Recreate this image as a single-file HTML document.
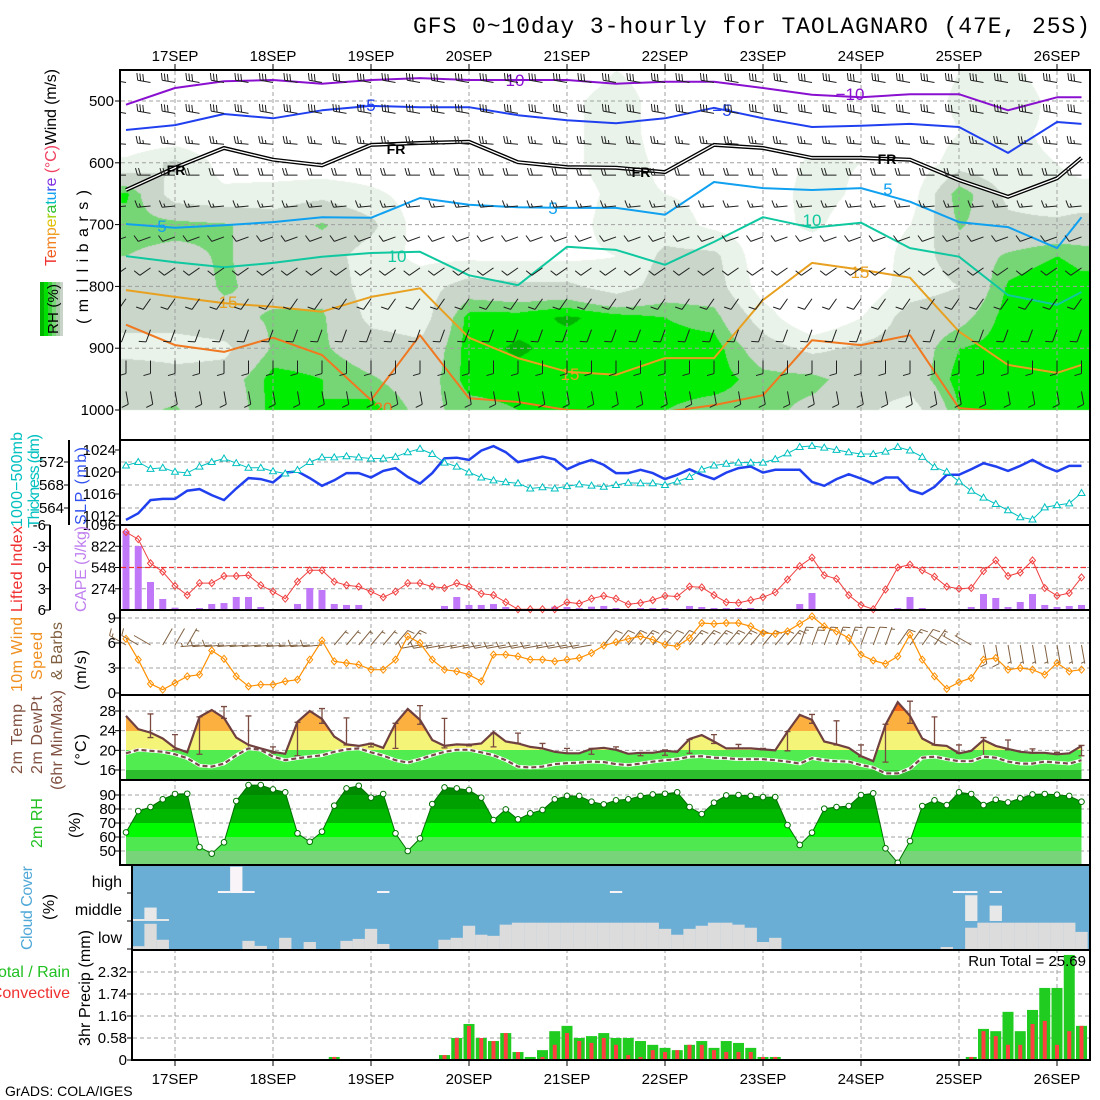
<!DOCTYPE html>
<html><head><meta charset="utf-8">
<style>
body{margin:0;background:#fff;width:1100px;height:1100px;overflow:hidden;position:relative;font-family:"Liberation Sans",sans-serif}
#rhcanvas{position:absolute;left:0;top:0}
#chart{position:absolute;left:0;top:0}
text{font-family:"Liberation Sans",sans-serif}
</style></head>
<body>
<canvas id="rhcanvas" width="1100" height="1100"></canvas>
<svg id="chart" xmlns="http://www.w3.org/2000/svg" width="1100" height="1100">
<defs>
<clipPath id="p1clip"><rect x="121" y="71" width="968" height="339"/></clipPath>
<clipPath id="tclip"><polygon id="tpoly" points=""/></clipPath>
<clipPath id="rclip"><polygon id="rpoly" points=""/></clipPath>
<clipPath id="cclip"><rect x="133" y="866" width="956" height="83"/></clipPath>
</defs>
<g id="dyn"></g>
<g fill="none" stroke="#000" stroke-width="2">
<rect x="120" y="70" width="970" height="370"/>
<rect x="120" y="440" width="970" height="85"/>
<rect x="120" y="525" width="970" height="85"/>
<rect x="120" y="610" width="970" height="85"/>
<rect x="120" y="695" width="970" height="85"/>
<rect x="120" y="780" width="970" height="85"/>
<rect x="132" y="865" width="958" height="85"/>
<rect x="132" y="950" width="958" height="110"/>
<line x1="69" y1="440" x2="69" y2="525"/>
<line x1="50" y1="525" x2="50" y2="610"/>
</g>
<text x="1090" y="33" text-anchor="end" font-family="Liberation Mono" font-size="23" textLength="677" style="font-family:'Liberation Mono',monospace">GFS 0~10day 3-hourly for TAOLAGNARO (47E, 25S)</text>
<text x="5" y="1096" font-size="14">GrADS: COLA/IGES</text>
<text x="1086" y="966" text-anchor="end" font-size="15">Run Total = 25.69</text>

<g font-size="16">
<text transform="translate(56,266) rotate(-90)" textLength="197"><tspan fill="#f03030">T</tspan><tspan fill="#f05a20">e</tspan><tspan fill="#f08020">m</tspan><tspan fill="#f0a020">p</tspan><tspan fill="#e0c000">e</tspan><tspan fill="#a0d000">r</tspan><tspan fill="#30c030">a</tspan><tspan fill="#00c0c0">t</tspan><tspan fill="#10a0f0">u</tspan><tspan fill="#3050f0">r</tspan><tspan fill="#8030e0">e</tspan><tspan fill="#f04060"> (°C)</tspan><tspan fill="#000">Wind (m/s)</tspan></text>
<text transform="translate(88,324) rotate(-90)" textLength="134">(millibars)</text>
<g>
<rect x="40" y="282" width="4" height="54" fill="#00b400"/><rect x="44" y="282" width="4" height="54" fill="#00e000"/><rect x="48" y="282" width="4" height="54" fill="#3cd03c"/><rect x="52" y="282" width="4" height="54" fill="#78d878"/><rect x="56" y="282" width="4" height="54" fill="#a8c8a8"/><rect x="60" y="282" width="3" height="54" fill="#c8d4c8"/>
<text transform="translate(58,334) rotate(-90)" font-size="15" textLength="50">RH (%)</text>
</g>
<text transform="translate(22,527) rotate(-90)" fill="#00c0c0" textLength="95">1000−500mb</text>
<text transform="translate(39,528) rotate(-90)" fill="#00c0c0" textLength="94">Thickness (dm)</text>
<text transform="translate(86,525) rotate(-90)" fill="#3050f0" textLength="78">SLP (mb)</text>
<text transform="translate(22,612) rotate(-90)" fill="#f03030" textLength="86">Lifted Index</text>
<text transform="translate(86,612) rotate(-90)" fill="#c080f0" textLength="86">CAPE (J/kg)</text>
<text transform="translate(22,692) rotate(-90)" fill="#f09020" textLength="75">10m Wind</text>
<text transform="translate(42,680) rotate(-90)" fill="#f09020" textLength="48">Speed</text>
<text transform="translate(62,680) rotate(-90)" fill="#806040" textLength="58">&amp; Barbs</text>
<text transform="translate(86,690) rotate(-90)" textLength="40">(m/s)</text>
<text transform="translate(22,774) rotate(-90)" fill="#805040" textLength="70">2m Temp</text>
<text transform="translate(42,774) rotate(-90)" fill="#805040" textLength="78">2m DewPt</text>
<text transform="translate(62,790) rotate(-90)" fill="#805040" textLength="100">(6hr Min/Max)</text>
<text transform="translate(86,766) rotate(-90)" textLength="32">(°C)</text>
<text transform="translate(42,848) rotate(-90)" fill="#20c020" textLength="50">2m RH</text>
<text transform="translate(80,838) rotate(-90)" textLength="26">(%)</text>
<text transform="translate(32,950) rotate(-90)" fill="#50a8d8" textLength="84">Cloud Cover</text>
<text transform="translate(54,920) rotate(-90)" textLength="26">(%)</text>
<text transform="translate(90,1046) rotate(-90)" textLength="116">3hr Precip (mm)</text>
<text x="70" y="977" text-anchor="end" fill="#20c020">Total / Rain</text>
<text x="70" y="998" text-anchor="end" fill="#f03030">Convective</text>
<text x="122" y="887" text-anchor="end">high</text>
<text x="122" y="915" text-anchor="end">middle</text>
<text x="122" y="943" text-anchor="end">low</text>
</g>
</svg>
<script>
const N = 79;
const slp = [1011.3,1012.5,1014.9,1015.1,1015.1,1016.6,1016.9,1015.8,1014.9,1017.0,1018.9,1018.7,1018.1,1019.9,1020.1,1018.9,1017.5,1018.5,1019.8,1019.8,1019.0,1020.2,1020.7,1019.1,1017.9,1019.8,1022.5,1022.6,1022.2,1023.9,1024.7,1023.6,1021.8,1022.3,1022.8,1022.3,1020.5,1021.5,1022.2,
1021.3,1019.8,1019.8,1020.4,1019.8,1018.7,1019.5,1020.5,1019.5,1018.7,1019.9,1020.7,1021.0,1019.9,1020.4,1020.4,1020.4,1018.2,1017.5,1018.7,1019.6,1018.8,1017.9,1019.0,1019.0,1016.7,1016.0,1017.3,1019.5,1019.5,1020.5,1021.6,1021.0,1020.2,1021.1,1022.2,1021.0,1020.1,1021.1,1021.1];
const thickness = [571.4,572.0,570.8,571.0,570.3,570.1,571.2,572.0,572.6,571.8,571.0,571.0,570.4,570.0,570.6,572.0,572.8,572.8,573.0,572.8,572.6,572.6,572.9,573.7,574.3,573.4,571.9,571.2,570.2,569.3,568.8,568.5,568.3,567.4,567.6,567.4,567.8,568.1,567.9,
567.7,568.0,568.4,568.3,568.3,568.0,568.6,569.4,570.7,571.4,571.7,571.9,571.9,571.9,572.5,573.5,574.6,574.8,574.5,574.1,573.7,573.4,573.4,573.8,574.6,574.0,572.9,571.1,570.3,568.6,567.0,565.8,564.7,563.6,562.4,562.0,564.1,564.5,564.8,566.6];
const cape = [1023,825,361,142,30,13,26,77,90,168,168,39,13,13,77,284,258,77,65,65,13,0,0,13,13,13,52,168,65,65,77,39,13,13,13,43,39,26,43,
52,26,13,26,26,26,13,52,39,26,26,26,26,13,13,13,77,219,0,0,0,0,0,0,26,168,26,0,13,13,39,206,155,39,103,206,65,39,52,65];
const liftedIndex = [-5.0,-4.0,-0.6,0.6,2.6,3.9,2.2,2.2,1.2,1.2,1.1,2.5,3.4,4.4,2.0,0.4,0.4,2.0,2.5,2.7,3.4,4.2,3.4,2.2,2.2,2.7,2.9,2.2,2.7,3.7,3.9,4.9,5.9,5.9,5.9,5.9,4.9,5.1,4.4,
4.0,4.4,5.2,5.0,4.6,4.0,4.1,2.7,2.8,3.9,4.9,5.0,4.6,4.2,3.5,1.7,-0.2,-1.4,1.1,1.6,3.9,5.3,5.9,3.1,0.0,-0.4,0.4,1.3,2.7,3.0,2.9,0.5,-1.0,1.2,0.7,-1.0,2.9,4.0,3.6,1.4];
const windSpeed = [6.5,4.0,1.1,0.4,1.2,2.0,2.2,5.1,4.1,2.0,0.8,1.0,1.0,1.4,1.6,4.0,6.3,3.8,3.6,3.4,2.8,2.8,4.0,6.8,6.0,4.0,2.8,2.6,2.2,1.4,4.6,4.6,4.4,4.0,4.0,3.8,4.0,4.2,4.8,5.7,
6.1,6.5,6.8,6.4,5.8,5.6,6.6,8.4,8.3,8.4,8.4,8.0,7.2,7.1,7.4,8.3,9.2,8.0,7.4,6.6,4.6,3.9,3.5,4.4,7.0,4.0,2.0,0.5,1.3,1.8,4.0,4.2,2.8,3.0,2.8,2.2,3.6,2.6,2.8];
const windDir = [300,300,300,30,30,30,265,265,265,265,
265,265,265,265,265,265,265,40,40,40,
40,40,40,40,260,260,260,260,260,260,
260,260,260,260,260,260,260,260,260,40,
40,40,40,40,40,40,40,40,40,40,
40,40,40,40,40,20,20,20,20,20,
20,20,20,35,35,35,35,300,300,300,
170,170,170,170,170,170,170,170,170];
const temp2m = [27.0,24.3,23.6,22.4,20.5,19.6,26.8,28.2,26.6,22.6,21.1,20.4,19.7,19.3,25.8,28.0,26.4,22.8,21.2,20.9,21.4,20.5,25.5,28.4,26.2,22.1,20.9,21.2,21.1,21.4,23.7,21.8,21.4,20.7,20.4,19.7,19.4,19.4,20.3,20.5,
20.1,19.3,19.5,19.5,19.9,19.7,22.3,23.1,21.8,20.4,20.4,20.4,20.2,20.0,23.8,27.2,26.2,21.8,21.2,20.5,18.8,17.8,25.2,29.8,27.0,22.4,21.1,20.9,19.4,19.9,22.1,20.9,20.3,19.7,19.5,19.5,19.2,19.4,20.9];
const dew2m = [19.4,20.1,19.9,19.7,19.2,18.4,16.9,16.7,17.3,19.0,20.4,20.1,18.7,18.0,18.4,18.7,19.0,19.7,20.2,20.4,19.6,18.9,18.0,17.5,18.2,19.0,19.7,20.1,20.1,19.6,19.0,18.0,16.7,16.5,16.7,17.2,17.4,17.5,17.7,17.6,
17.2,17.0,17.3,17.7,18.0,18.2,18.7,18.8,18.5,18.4,18.2,18.2,18.2,18.0,17.7,17.3,18.4,18.0,17.8,17.7,17.0,16.5,15.3,15.3,16.3,18.5,18.7,18.2,17.8,17.8,18.7,18.5,17.7,17.3,17.3,17.7,17.5,17.3,18.0];
const tMax6h = [27.4,23.2,26.8,28.9,27.0,20.7,25.7,28.5,26.6,21.4,25.5,29.1,26.5,21.2,23.5,23.5,21.4,20.4,20.4,20.7,19.4,20.1,22.2,23.2,21.2,20.4,23.8,27.3,26.0,21.1,25.3,30.0,26.8,21.1,22.6,22.1,20.3,19.6,21.0];
const tMin6h = [22.6,20.1,19.2,26.5,20.4,19.4,18.9,25.5,21.1,20.7,20.4,25.3,20.5,20.9,20.7,21.4,20.3,19.4,19.2,20.1,18.9,19.0,19.4,21.4,20.3,20.1,19.9,25.5,21.1,18.7,17.6,25.5,21.1,19.4,18.9,20.1,19.4,19.2,18.9];
const rh2m = [63.3,78.5,81.4,86.9,90.7,90.9,52.8,48.1,56.2,85.7,97.1,97.1,94.0,91.9,62.6,56.6,63.8,82.4,94.7,96.6,88.1,90.7,62.6,50.0,59.0,83.5,95.4,94.7,93.5,88.1,72.1,79.7,72.6,76.9,79.3,86.9,89.3,89.3,85.2,83.3,
86.2,86.9,89.3,90.4,90.9,91.9,81.4,76.4,84.5,89.7,90.0,89.3,88.5,88.5,68.5,54.3,63.1,80.2,81.4,82.1,90.0,91.2,51.9,41.6,57.1,82.1,86.2,82.8,91.9,90.7,82.8,86.6,84.7,87.6,90.4,90.7,90.2,89.3,85.2];
const cloudLow = [10,10,90,33,0,0,0,0,0,0,29,11,0,40,0,25,0,0,29,36,72,18,0,0,0,0,33,40,83,51,47,87,94,94,94,94,94,94,94,94,
94,94,94,94,72,51,72,83,94,94,87,76,25,40,0,0,0,0,0,0,0,0,0,0,0,0,0,7,0,76,94,94,94,94,94,94,94,94,61];
const cloudMid = [0,7,48,7,0,0,0,0,0,0,0,0,0,0,0,0,0,0,0,0,0,0,0,0,0,0,0,0,0,0,0,0,0,0,0,0,0,0,0,0,
0,0,0,0,0,0,0,0,0,0,0,0,0,0,0,0,0,0,0,0,0,0,0,0,0,0,0,0,0,92,0,55,0,0,0,0,0,0,0];
const cloudHigh = [0,0,0,0,0,0,0,0,5,94,5,0,0,0,0,0,0,0,0,0,0,5,0,0,0,0,0,0,0,0,0,0,0,0,0,0,0,0,0,0,
5,0,0,0,0,0,0,0,0,0,0,0,0,0,0,0,0,0,0,0,0,0,0,0,0,0,0,0,5,5,0,7,0,0,0,0,0,0,0];
const precipTotal = [0,0,0,0,0,0,0,0,0,0,0,0,0,0,0,0,0,0.08,0,0,0,0,0,0,0,0,0.13,0.58,0.95,0.58,0.50,0.71,0.21,0.08,0.26,0.76,0.90,0.58,0.63,0.71,
0.58,0.58,0.50,0.40,0.32,0.26,0.40,0.50,0.32,0.50,0.45,0.32,0.08,0.08,0,0,0,0,0,0,0,0,0,0,0,0,0,0,0,0.08,0.82,0.76,1.27,0.76,1.32,1.90,1.90,2.77,0.90];
const precipConv = [0,0,0,0,0,0,0,0,0,0,0,0,0,0,0,0,0,0.08,0,0,0,0,0,0,0,0,0.13,0.58,0.90,0.58,0.50,0.71,0.21,0,0.08,0.40,0.71,0.50,0.45,0.58,
0.40,0.13,0.08,0.26,0.21,0.26,0.40,0.40,0.26,0.21,0.21,0.21,0.08,0.08,0,0,0,0,0,0,0,0,0,0,0,0,0,0,0,0.08,0.76,0.63,0.40,0.40,0.95,1.03,0.40,0.76,0.90];
const dayLabels = ['17SEP','18SEP','19SEP','20SEP','21SEP','22SEP','23SEP','24SEP','25SEP','26SEP'];
const dayIndex = [4,12,20,28,36,44,52,60,68,76];
const rhCols = [0,4,8,12,16,20,24,28,32,36,40,44,48,52,56,60,64,68,72,76,78];
const rhLevels = [450,500,550,600,650,700,750,800,850,900,950,1000];
const rhGrid = [
[10,10,10,35,82,75,70,60,60,40,70,65],
[10,10,10,55,40,75,65,60,60,40,60,72],
[10,10,10,20,35,72,72,72,65,45,60,55],
[10,10,10,15,40,60,60,65,72,72,85,85],
[10,10,10,15,45,72,60,65,72,72,80,80],
[10,10,10,15,35,55,40,40,45,60,72,85],
[10,10,10,10,20,20,25,40,40,55,60,65],
[10,10,10,15,15,20,25,60,85,85,85,75],
[10,10,15,20,15,20,25,55,85,92,85,80],
[15,25,25,25,20,20,25,55,92,85,85,82],
[30,40,40,40,35,40,30,40,85,85,85,80],
[20,20,20,25,30,40,55,60,80,85,85,80],
[15,15,15,20,25,25,55,60,75,85,85,75],
[15,15,15,15,15,20,15,20,40,60,75,75],
[15,15,15,35,40,35,15,10,10,45,75,65],
[15,15,15,30,25,15,10,15,30,55,60,55],
[15,15,15,15,20,30,40,40,60,60,60,40],
[30,35,30,40,80,72,60,50,65,80,85,80],
[35,50,35,35,45,55,72,82,85,85,85,85],
[15,20,25,30,35,55,80,90,85,85,85,80],
[15,15,15,25,35,60,75,85,85,85,85,80]];
const isoMinus10 = [506,479,468,466,472,466,463,466,466,466,472,469,469,479,490,494,489,489,515,494,494];
const isoMinus5 = [547,539,521,528,515,508,510,510,523,531,536,528,511,528,542,540,537,542,584,534,537];
const isoFreezing = [644,608,576,595,604,571,568,566,599,607,608,615,571,576,592,592,595,628,655,625,592];
const iso5 = [699,705,701,696,688,689,657,668,672,673,673,684,631,641,644,641,663,696,704,738,688];
const iso10 = [751,761,769,762,752,746,744,782,798,736,741,765,728,688,705,697,738,752,814,830,809];
const iso15 = [806,817,827,833,841,817,803,883,916,938,943,916,916,822,762,773,786,873,927,940,927];
const iso20 = [862,895,906,883,911,984,879,981,987,1000,1003,1003,992,976,887,895,879,997,1003,1003,1003];
const barbLevels = [470,520,570,620,670,720,770,820,870,920,970];
const barbLevelDir = [280,280,275,270,265,250,235,215,200,180,170];
const barbLevelKt = [30,28,25,20,15,12,10,10,10,10,10];

// axis functions
const X = i => 126 + 12.25 * i;
const yP = p => 101 + (p - 500) * 0.618;
const ySlp = v => 450 + (1024 - v) * 5.5;
const yThk = v => 462 + (572 - v) * 5.75;
const yCape = v => 610 - v / 1096 * 85;
const yLi = v => 525 + (v + 6) / 12 * 85;
const yW = v => 693 - v * 8.333;
const yT = v => 711 + (28 - v) * 4.917;
const yRh = v => 795 + (90 - v) * 1.4;
const yPr = v => 1060 - v / 0.58 * 22;

const NS = 'http://www.w3.org/2000/svg';
const svg = document.getElementById('chart');
const dyn = document.getElementById('dyn');
function mk(tag, attrs, parent) {
  const e = document.createElementNS(NS, tag);
  for (const k in attrs) e.setAttribute(k, attrs[k]);
  (parent || dyn).appendChild(e);
  return e;
}
function grp(name, attrs) {
  const g = mk('g', attrs || {});
  
  
  return g;
}

// ---------- RH field (canvas) ----------
(function(){
  const cv = document.getElementById('rhcanvas');
  const ctx = cv.getContext('2d');
  const W = 969, H = 340, x0 = 121, y0 = 70;
  const img = ctx.createImageData(W, H);
  const cols = [[233,243,233],[201,214,201],[118,214,118],[0,236,0],[0,180,0]];
  for (let py = 0; py < H; py++) {
    const y = y0 + py;
    let p = 500 + (y - 101) / 0.618;
    p = Math.max(450, Math.min(1000, p));
    const fp = (p - 450) / 50;
    const r0 = Math.min(10, Math.floor(fp)); const ty = fp - r0;
    for (let px = 0; px < W; px++) {
      const x = x0 + px;
      let fi = (x - 126) / 12.25; fi = Math.max(0, Math.min(78, fi));
      let c = 0; while (c < rhCols.length - 2 && rhCols[c + 1] < fi) c++;
      const tx = (fi - rhCols[c]) / (rhCols[c + 1] - rhCols[c]);
      const a = rhGrid[c][r0] * (1 - ty) + rhGrid[c][r0 + 1] * ty;
      const b = rhGrid[c + 1][r0] * (1 - ty) + rhGrid[c + 1][r0 + 1] * ty;
      const v = a * (1 - tx) + b * tx;
      let col = null;
      if (v >= 90) col = cols[4]; else if (v >= 80) col = cols[3]; else if (v >= 70) col = cols[2]; else if (v >= 50) col = cols[1]; else if (v >= 30) col = cols[0];
      const k = (py * W + px) * 4;
      if (col) { img.data[k] = col[0]; img.data[k+1] = col[1]; img.data[k+2] = col[2]; img.data[k+3] = 255; }
    }
  }
  ctx.putImageData(img, x0, y0);
})();

// ---------- gridlines ----------
const grid = grp('gridlines', {stroke:'#a0a0a0', 'stroke-width':1, 'stroke-dasharray':'4,3', fill:'none'});
function hgrid(y, xa) { const l = mk('line', {x1: xa || 121, x2: 1089, y1: y, y2: y}, grid);   }

// ---------- panel 1: contours & barbs ----------
const p1 = grp('upper-air-contours', {'clip-path':'url(#p1clip)', fill:'none'});
[500,600,700,800,900].forEach(p => { const l = mk('line', {x1:121,x2:1089,y1:yP(p),y2:yP(p),stroke:'#a0a0a0','stroke-dasharray':'4,3'}, p1);   });

function barb(g, x, y, dir, kt, len, color, name) {
  const r = dir * Math.PI / 180, ux = Math.sin(r), uy = -Math.cos(r);
  const ex = x + ux * len, ey = y + uy * len;
  let d = `M${x},${y}L${ex},${ey}`;
  const px = -uy, py = ux;
  let n = Math.round(kt / 5), pos = 0;
  while (n >= 2) { const bx = ex - ux * pos, by = ey - uy * pos; d += `M${bx},${by}l${(px*7+ux*2).toFixed(1)},${(py*7+uy*2).toFixed(1)}`; n -= 2; pos += 3; }
  if (n === 1) { const bx = ex - ux * (pos + (pos===0?2:0)), by = ey - uy * (pos + (pos===0?2:0)); d += `M${bx},${by}l${(px*3.5+ux).toFixed(1)},${(py*3.5+uy).toFixed(1)}`; }
  const e = mk('path', {d, stroke: color, 'stroke-width': 1, fill: 'none'}, g);
  
  
}
const barbG = grp('upper-air-wind-barbs', {'clip-path':'url(#p1clip)'});
for (let i = 0; i < N; i += 2) {
  barbLevels.forEach((L, k) => barb(barbG, X(i), yP(L), barbLevelDir[k], barbLevelKt[k], 13, '#202020', 'upper-wind-barb'));
}
const isoSets = [[isoMinus10,'#8a10d0','isotherm-minus10'],[isoMinus5,'#2040f0','isotherm-minus5'],[iso5,'#10a0f0','isotherm-5'],[iso10,'#10c8a0','isotherm-10'],[iso15,'#e8a020','isotherm-15'],[iso20,'#f07820','isotherm-20']];
isoSets.forEach(s => {
  const pts = s[0].map((p, k) => `${X(rhCols[k])},${yP(p).toFixed(1)}`).join(' ');
  const e = mk('polyline', {points: pts, stroke: s[1], 'stroke-width': 2, fill: 'none', 'stroke-linejoin':'round'}, p1);
  
  
});
{
  const pts = isoFreezing.map((p, k) => `${X(rhCols[k])},${yP(p).toFixed(1)}`).join(' ');
  const a = mk('polyline', {points: pts, stroke: '#000', 'stroke-width': 4, fill: 'none'}, p1);
  
  
  const b = mk('polyline', {points: pts, stroke: '#fff', 'stroke-width': 1.3, fill: 'none'}, p1);
  
  
}
const isoLabels = [['−10',510,86,'#8a10d0'],['−10',850,100,'#8a10d0'],['−5',366,111,'#2040f0'],['−5',722,116,'#2040f0'],['FR',176,175,'#000'],['FR',396,154,'#000'],['FR',641,177,'#000'],['FR',887,164,'#000'],['5',162,232,'#10a0f0'],['5',553,214,'#10a0f0'],['5',888,195,'#10a0f0'],['10',397,262,'#10c8a0'],['10',812,226,'#10c8a0'],['15',228,308,'#e8a020'],['15',860,278,'#e8a020'],['15',570,380,'#e8a020'],['20',383,414,'#f07820']];
isoLabels.forEach(l => {
  const t = mk('text', {x: l[1], y: l[2], fill: l[3], 'font-size': l[3]==='#000'?14:17, 'text-anchor':'middle', 'font-weight': l[3]==='#000'?'bold':'normal'}, p1);
  t.textContent = l[0];
  
  
});

// vertical day gridlines
dayIndex.forEach(i => {
  [[71,440],[440,610],[610,865],[865,1060]].forEach(seg => {
    const l = mk('line', {x1: X(i), x2: X(i), y1: seg[0], y2: seg[1]}, grid);
    
    
  });
});

// ---------- panel 2: SLP & thickness ----------
[572,568,564].forEach(v => hgrid(yThk(v)));
const p2 = grp('slp-thickness-series', {fill:'none'});
{
  const e = mk('polyline', {points: slp.map((v,i)=>`${X(i)},${ySlp(v).toFixed(1)}`).join(' '), stroke:'#2040f0','stroke-width':2.5}, p2);
  
  
  const t = mk('polyline', {points: thickness.map((v,i)=>`${X(i)},${yThk(v).toFixed(1)}`).join(' '), stroke:'#00c0c0','stroke-width':1}, p2);
  
  
  thickness.forEach((v,i) => {
    const x = X(i), y = yThk(v);
    const m = mk('path', {d:`M${x},${y-3.5}L${x+3.5},${y+2.5}L${x-3.5},${y+2.5}Z`, stroke:'#00c0c0', fill:'#fff'}, p2);
    
    
  });
}

// ---------- panel 3: CAPE & LI ----------
[822,548,274].forEach(v => hgrid(yCape(v)));
const p3 = grp('cape-li-series');
cape.forEach((v,i) => {
  if (v <= 0) return;
  const b = mk('rect', {x: X(i)-3.5, y: yCape(v), width: 7, height: 610 - yCape(v), fill:'#c078f8'}, p3);
  
  
});
{
  const z = mk('line', {x1:121,x2:1089,y1:yLi(0),y2:yLi(0),stroke:'#f03030','stroke-dasharray':'5,3','stroke-width':1.2}, p3);
  
  
  const l = mk('polyline', {points: liftedIndex.map((v,i)=>`${X(i)},${yLi(v).toFixed(1)}`).join(' '), stroke:'#f04040', fill:'none'}, p3);
  
  
  liftedIndex.forEach((v,i) => {
    const x = X(i), y = yLi(v);
    const m = mk('path', {d:`M${x},${y-3.5}L${x+3},${y}L${x},${y+3.5}L${x-3},${y}Z`, stroke:'#f04040', fill:'none'}, p3);
    
    
  });
}

// ---------- panel 4: 10m wind ----------
[9,6,3].forEach(v => hgrid(yW(v)));
const p4 = grp('surface-wind-series');
windDir.forEach((d,i) => barb(p4, X(i), 645, d, windSpeed[i]*1.94, 19, '#806040', 'surface-wind-barb'));
{
  const l = mk('polyline', {points: windSpeed.map((v,i)=>`${X(i)},${yW(v).toFixed(1)}`).join(' '), stroke:'#ff9000', fill:'none','stroke-width':1.2}, p4);
  
  
  windSpeed.forEach((v,i) => {
    const x = X(i), y = yW(v);
    const m = mk('path', {d:`M${x},${y-3.5}L${x+3},${y}L${x},${y+3.5}L${x-3},${y}Z`, stroke:'#ff9000', fill:'none'}, p4);
    
    
  });
}

// ---------- panel 5: temperature ----------
document.getElementById('tpoly').setAttribute('points', temp2m.map((v,i)=>`${X(i)},${yT(v).toFixed(1)}`).join(' ') + ` ${X(78)},780 ${X(0)},780`);
const p5 = grp('temperature-fill', {'clip-path':'url(#tclip)'});
[[695,711,'#f86818'],[711,731,'#fbb040'],[731,750,'#f4f478'],[750,770,'#50ec50'],[770,780,'#2cbe2c']].forEach(b => {
  const r = mk('rect', {x:121, y:b[0], width:968, height:b[1]-b[0], fill:b[2]}, p5);
  
  
});
[28,24,20,16].forEach(v => hgrid(yT(v)));
const p5b = grp('temperature-lines', {fill:'none'});
tMax6h.forEach((v,k) => {
  const i = 2 + 2*k, x = X(i), ya = yT(v), yb = yT(tMin6h[k]);
  const e = mk('path', {d:`M${x},${ya}L${x},${yb}M${x-3},${ya}L${x+3},${ya}M${x-3},${yb}L${x+3},${yb}`, stroke:'#7a4a40','stroke-width':1.3}, p5b);
  
  
});
{
  const dp = dew2m.map((v,i)=>`${X(i)},${yT(v).toFixed(1)}`).join(' ');
  const w = mk('polyline', {points: dp, stroke:'#fff','stroke-width':3.5}, p5b);
  
  
  const d = mk('polyline', {points: dp, stroke:'#7a4a4a','stroke-width':2.2,'stroke-dasharray':'5,3'}, p5b);
  
  
  const t = mk('polyline', {points: temp2m.map((v,i)=>`${X(i)},${yT(v).toFixed(1)}`).join(' '), stroke:'#704040','stroke-width':2.2}, p5b);
  
  
}

// ---------- panel 6: RH ----------
document.getElementById('rpoly').setAttribute('points', rh2m.map((v,i)=>`${X(i)},${yRh(v).toFixed(1)}`).join(' ') + ` ${X(78)},865 ${X(0)},865`);
const p6 = grp('rh-fill', {'clip-path':'url(#rclip)'});
[[780,795,'#008a00'],[795,809,'#00a000'],[809,823,'#00b800'],[823,837,'#00fa00'],[837,851,'#50e850'],[851,865,'#78d478']].forEach(b => {
  const r = mk('rect', {x:121, y:b[0], width:968, height:b[1]-b[0], fill:b[2]}, p6);
  
  
});
[90,80,70,60,50].forEach(v => hgrid(yRh(v)));
const p6b = grp('rh-series');
{
  const l = mk('polyline', {points: rh2m.map((v,i)=>`${X(i)},${yRh(v).toFixed(1)}`).join(' '), stroke:'#007000', fill:'none'}, p6b);
  
  
  rh2m.forEach((v,i) => {
    const c = mk('circle', {cx: X(i), cy: yRh(v), r: 2.8, fill:'#fff', stroke:'#007000'}, p6b);
    
    
  });
}

// ---------- panel 7: cloud cover ----------
const p7 = grp('cloud-cover', {'clip-path':'url(#cclip)'});
{
  const bg = mk('rect', {x:132, y:865, width:958, height:85, fill:'#6aaed6'}, p7);
  
  
}
function cloudBars(arr, bottom, color, name) {
  arr.forEach((v,i) => {
    if (v <= 0) return;
    const h = Math.max(2, v * 0.28);
    const r = mk('rect', {x: X(i)-6.125, y: bottom - h, width: 12.3, height: h, fill: color}, p7);
    
    
  });
}
cloudBars(cloudLow, 949, '#dcdcdc', 'low-cloud-bar');
cloudBars(cloudMid, 921, '#e8e8e8', 'mid-cloud-bar');
cloudBars(cloudHigh, 893, '#f8f4f8', 'high-cloud-bar');
[893,921,948].forEach(y => hgrid(y, 133));

// ---------- panel 8: precip ----------
[2.32,1.74,1.16,0.58].forEach(v => hgrid(yPr(v), 133));
const p8 = grp('precip-bars');
precipTotal.forEach((v,i) => {
  if (v <= 0) return;
  const r = mk('rect', {x: X(i)-5.5, y: yPr(v), width: 11, height: 1060 - yPr(v), fill:'#20cc20'}, p8);
  
  
});
precipConv.forEach((v,i) => {
  if (v <= 0) return;
  const r = mk('rect', {x: X(i)-2, y: yPr(v), width: 4, height: 1060 - yPr(v), fill:'#ff4040'}, p8);
  
  
});

// ---------- axes labels ----------
const ax = grp('axis-labels', {'font-size': 15, fill:'#000'});
function tick(x, y, label, x2, name) {
  const t = mk('text', {x: x, y: y + 5, 'text-anchor':'end'}, ax);
  t.textContent = label;
  
  
  const l = mk('line', {x1: x2 - 5, x2: x2, y1: y, y2: y, stroke:'#000'}, ax);
  
  
}
[500,600,700,800,900,1000].forEach(p => tick(114, yP(p), String(p), 120, 'pressure-tick-label'));
[1024,1020,1016,1012].forEach(v => tick(116, ySlp(v), String(v), 120, 'slp-tick-label'));
[572,568,564].forEach(v => tick(64, yThk(v), String(v), 69, 'thickness-tick-label'));
[1096,822,548,274].forEach(v => tick(116, yCape(v), String(v), 120, 'cape-tick-label'));
[-6,-3,0,3,6].forEach(v => tick(46, yLi(v), String(v), 50, 'li-tick-label'));
[9,6,3,0].forEach(v => tick(116, yW(v), String(v), 120, 'wind-tick-label'));
[28,24,20,16].forEach(v => tick(116, yT(v), String(v), 120, 'temp-tick-label'));
[90,80,70,60,50].forEach(v => tick(116, yRh(v), String(v), 120, 'rh-tick-label'));
[[2.32,'2.32'],[1.74,'1.74'],[1.16,'1.16'],[0.58,'0.58'],[0,'0']].forEach(v => tick(127, yPr(v[0]), v[1], 132, 'precip-tick-label'));
[893,921,949].forEach(y => { const l = mk('line', {x1:127,x2:132,y1:y,y2:y,stroke:'#000'}, ax);   });
dayLabels.forEach((lab,k) => {
  const x = X(dayIndex[k]);
  const a = mk('text', {x, y: 61, 'text-anchor':'middle'}, ax);
  a.textContent = lab;
  
  
  const b = mk('text', {x, y: 1084, 'text-anchor':'middle'}, ax);
  b.textContent = lab;
  
  
  const t1 = mk('line', {x1:x,x2:x,y1:64,y2:70,stroke:'#000'}, ax);
  
  
  const t2 = mk('line', {x1:x,x2:x,y1:1060,y2:1066,stroke:'#000'}, ax);
  
  
});
</script>
</body></html>
